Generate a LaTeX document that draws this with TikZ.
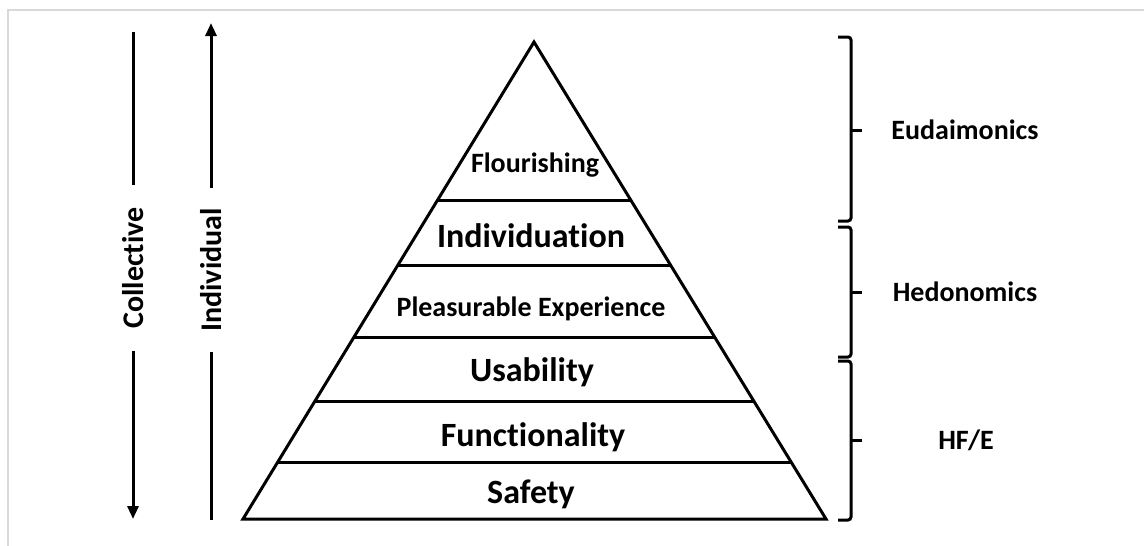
\documentclass[tikz,border=0pt]{standalone}
\usepackage{fontspec}
\setmainfont{Carlito}[Ligatures={NoCommon,NoDiscretionary}]
\usetikzlibrary{arrows.meta}
\usetikzlibrary{calc}
\tikzstyle{lvl} = [font=\fontsize{34}{36}\selectfont\bfseries, anchor=base, inner sep=0pt]
\tikzstyle{lvlsm} = [font=\fontsize{28}{30}\selectfont\bfseries, anchor=base, inner sep=0pt]
\tikzstyle{side} = [font=\fontsize{30}{32}\selectfont\bfseries, rotate=90, inner ysep=0pt]
\tikzstyle{arrow} = [line width=3pt,-{Triangle[length=13pt,width=11pt]}]
\tikzstyle{brace} = [line width=3pt, rounded corners=3pt]
\def\apexy{42}
\def\basey{519}

\begin{document}
\begin{tikzpicture}[x=1pt,y=-1pt]
\useasboundingbox (0,0) rectangle (1144,546);

% frame
\draw[line width=2pt,color=black!15] (1144,10) -- (8,10) -- (8,546);

% pyramid
\coordinate (A) at (534,\apexy);
\coordinate (L) at (243,\basey);
\coordinate (R) at (826,\basey);
\draw[line width=3pt,line join=miter] (L) -- (A) -- (R) -- cycle;
\foreach \y in {462,401,337,265,200}
  \draw[line width=3pt] ($(L)!{(\basey-\y)/(\basey-\apexy)}!(A)$) -- ($(R)!{(\basey-\y)/(\basey-\apexy)}!(A)$);

\node[lvlsm] (flour) at (535,172) {Flourishing};
\node[lvl]   (indiv) at (531,247) {Individuation};
\node[lvlsm] (pleas) at (531,316) {Pleasurable Experience};
\node[lvl]   (usab)  at (532,381) {Usability};
\node[lvl]   (func)  at (533,446) {Functionality};
\node[lvl]   (safe)  at (531,503) {Safety};

% left arrows
\node[side, inner xsep=22pt] (coll) at (133,268) {Collective};
\coordinate (colltop) at (133,32);
\coordinate (collbot) at (133,519);
\draw[line width=3pt] (colltop) -- (coll);
\draw[arrow] (coll) -- (collbot);

\node[side, inner xsep=20pt] (ind) at (211,270) {Individual};
\coordinate (indtop) at (211,23);
\coordinate (indbot) at (211,520);
\draw[arrow] (ind) -- (indtop);
\draw[line width=3pt] (indbot) -- (ind);

% braces
\foreach \t/\m/\b in {37/130/221, 227/292/357, 361/440/520}
{
  \draw[brace] (838,\t) -- (851,\t) -- (851,\b) -- (838,\b);
  \draw[line width=3pt] (851,\m) -- (862,\m);
}

\node[lvlsm] (eud) at (965,139) {Eudaimonics};
\node[lvlsm] (hed) at (965,301) {Hedonomics};
\node[lvlsm] (hfe) at (966,449) {HF/E};

\end{tikzpicture}
\end{document}
